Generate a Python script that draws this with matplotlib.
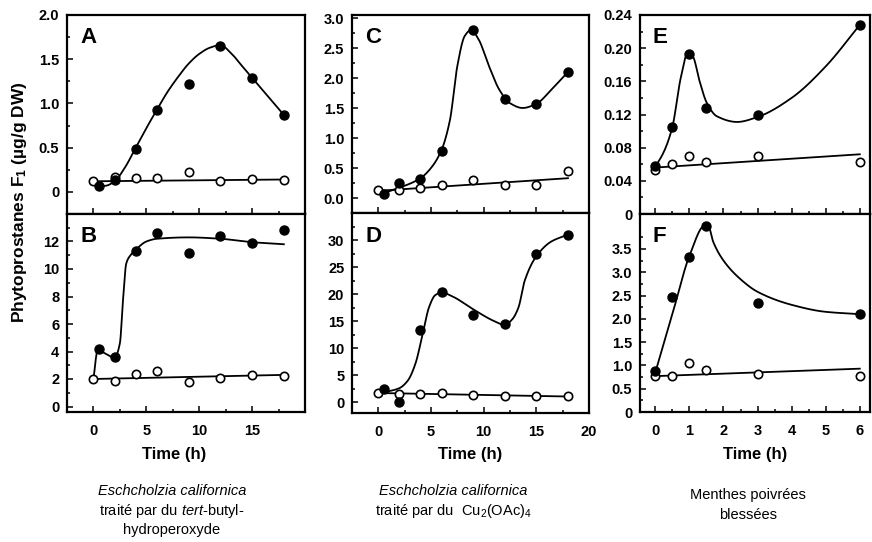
import numpy as np
import matplotlib
matplotlib.use("Agg")
import matplotlib.pyplot as plt
from matplotlib.ticker import MultipleLocator, FixedLocator

plt.rcParams['font.family'] = ['Liberation Sans', 'DejaVu Sans']
plt.rcParams['mathtext.fontset'] = 'custom'
plt.rcParams['mathtext.rm'] = 'Liberation Sans'
plt.rcParams['mathtext.it'] = 'Liberation Sans:italic'

# ---- data ----
t_filled = [0.5, 2, 4, 6, 9, 12, 15, 18]
t_open = [0, 2, 4, 6, 9, 12, 15, 18]
t_mint = [0, 0.5, 1, 1.5, 3, 6]

# A: E. californica + tert-butyl-hydroperoxide
a_filled = [0.07, 0.13, 0.48, 0.93, 1.22, 1.65, 1.29, 0.87]
a_open = [0.12, 0.17, 0.16, 0.16, 0.22, 0.12, 0.15, 0.13]
a_curve_t = [0.5, 1.2, 2, 3, 4, 5, 6, 7, 8, 9, 10, 11, 12, 13, 14, 15, 16, 17, 18]
a_curve_y = [0.06, 0.07, 0.12, 0.28, 0.5, 0.72, 0.93, 1.13, 1.3, 1.45, 1.56, 1.63, 1.66,
             1.57, 1.43, 1.29, 1.15, 1.01, 0.87]
a_line = [0.12, 0.14]

# B
b_filled = [4.2, 3.6, 11.3, 12.6, 11.2, 12.4, 11.9, 12.8]
b_open = [2.0, 1.85, 2.4, 2.55, 1.75, 2.05, 2.3, 2.25]
b_curve_t = [0, 0.4, 1, 2, 2.5, 2.8, 3.1, 3.5, 4, 5, 6, 9, 12, 15, 18]
b_curve_y = [2.0, 4.1, 3.9, 3.55, 4.6, 7.8, 10.4, 11.0, 11.4, 12.0, 12.2, 12.3, 12.2, 11.95, 11.8]
b_line = [2.0, 2.3]

# C: E. californica + Cu2(OAc)4
c_filled = [0.06, 0.25, 0.32, 0.78, 2.8, 1.65, 1.57, 2.1]
c_open = [0.13, 0.13, 0.16, 0.22, 0.3, 0.22, 0.21, 0.45]
c_curve_t = [0.5, 2, 4, 5, 6, 6.8, 7.5, 8.2, 8.8, 9.5, 10.5, 11.5, 12.5, 13.7, 15, 16.5, 18]
c_curve_y = [0.08, 0.17, 0.33, 0.5, 0.8, 1.3, 2.2, 2.7, 2.8, 2.65, 2.2, 1.8, 1.58, 1.5, 1.57, 1.82, 2.1]
c_line = [0.12, 0.33]

# D
d_filled = [2.5, 0.1, 13.3, 20.4, 16.2, 14.4, 27.4, 31.0]
d_open = [1.7, 1.45, 1.55, 1.65, 1.3, 1.2, 1.15, 1.1]
d_curve_t = [0.5, 2, 2.8, 3.5, 4.2, 4.8, 5.4, 6, 7, 9, 11, 12, 12.7, 13.3, 13.9, 15, 16.4, 18]
d_curve_y = [1.8, 2.6, 4.0, 7.0, 12.5, 17.5, 19.8, 20.3, 19.6, 17.2, 15.0, 14.3, 15.3, 17.5,
             22.5, 27.0, 29.7, 31.0]
d_line = [1.7, 1.05]

# E: wounded peppermint
e_filled = [0.058, 0.105, 0.193, 0.128, 0.119, 0.228]
e_open = [0.053, 0.06, 0.07, 0.063, 0.07, 0.063]
e_curve_t = [0, 0.25, 0.5, 0.75, 0.95, 1.1, 1.3, 1.5, 1.8, 2.4, 3, 4, 5, 6]
e_curve_y = [0.057, 0.075, 0.105, 0.165, 0.194, 0.19, 0.16, 0.135, 0.118, 0.111, 0.117,
             0.14, 0.178, 0.228]
e_line = [0.056, 0.072]

# F
f_filled = [0.87, 2.46, 3.33, 4.0, 2.33, 2.1]
f_open = [0.77, 0.77, 1.06, 0.91, 0.82, 0.78]
f_curve_t = [0, 0.5, 1, 1.45, 1.55, 1.7, 2, 2.5, 3, 4, 5, 6]
f_curve_y = [0.85, 2.1, 3.35, 4.0, 4.0, 3.65, 3.25, 2.85, 2.58, 2.3, 2.15, 2.1]
f_line = [0.77, 0.93]


def pchip(x, y, xs):
    # monotone cubic through the curve knots, just for drawing the smooth fit line
    x = np.asarray(x, float)
    y = np.asarray(y, float)
    h = np.diff(x)
    d = np.diff(y) / h
    m = np.zeros_like(y)
    m[0], m[-1] = d[0], d[-1]
    for k in range(1, len(x) - 1):
        if d[k - 1] * d[k] > 0:
            w1 = 2 * h[k] + h[k - 1]
            w2 = h[k] + 2 * h[k - 1]
            m[k] = (w1 + w2) / (w1 / d[k - 1] + w2 / d[k])
    idx = np.clip(np.searchsorted(x, xs) - 1, 0, len(x) - 2)
    s = (xs - x[idx]) / h[idx]
    h00 = 2 * s**3 - 3 * s**2 + 1
    h10 = s**3 - 2 * s**2 + s
    h01 = -2 * s**3 + 3 * s**2
    h11 = s**3 - s**2
    return h00 * y[idx] + h10 * h[idx] * m[idx] + h01 * y[idx + 1] + h11 * h[idx] * m[idx + 1]


W, H = 872, 542
fig = plt.figure(figsize=(W / 100, H / 100), dpi=100)


def add_ax(left, right, bottom, top):
    return fig.add_axes([left / W, 1 - bottom / H, (right - left) / W, (bottom - top) / H])


def draw(ax, letter, tf, filled, to, opn, ct, cy, line):
    xs = np.linspace(ct[0], ct[-1], 400)
    ax.plot(xs, pchip(ct, cy, xs), color='black', lw=1.3, zorder=2)
    ax.plot([to[0], to[-1]], line, color='black', lw=1.3, zorder=2)
    ax.plot(to, opn, 'o', ms=6, mfc='white', mec='black', mew=1.2, zorder=3)
    ax.plot(tf, filled, 'o', ms=6.5, color='black', zorder=4)
    ax.text(0.055, 0.885, letter, transform=ax.transAxes, fontsize=16,
            fontweight='bold', va='center', ha='left')
    for sp in ax.spines.values():
        sp.set_linewidth(1.6)
    ax.tick_params(which='both', direction='in', top=False, right=False,
                   labelsize=10.5, width=1.1)
    ax.tick_params(axis='x', pad=8.5)
    ax.tick_params(axis='y', pad=5.5)
    ax.tick_params(which='major', length=4)
    ax.tick_params(which='minor', length=2.5)
    for lab in ax.get_xticklabels() + ax.get_yticklabels():
        lab.set_fontweight('bold')


axA = add_ax(67, 305, 214, 15)
axB = add_ax(67, 305, 412, 214)
axC = add_ax(352, 589, 213, 15)
axD = add_ax(352, 589, 413, 213)
axE = add_ax(640, 870, 214, 15)
axF = add_ax(640, 870, 412, 214)

# x axes
for ax in (axA, axB):
    ax.set_xlim(-2.5, 20)
    ax.set_xticks([0, 5, 10, 15])
    ax.xaxis.set_minor_locator(FixedLocator([2.5, 7.5, 12.5, 17.5]))
for ax in (axC, axD):
    ax.set_xlim(-2.5, 20)
    ax.set_xticks([0, 5, 10, 15, 20])
    ax.xaxis.set_minor_locator(FixedLocator([2.5, 7.5, 12.5, 17.5]))
for ax in (axE, axF):
    ax.set_xlim(-0.45, 6.3)
    ax.set_xticks([0, 1, 2, 3, 4, 5, 6])
    ax.xaxis.set_minor_locator(MultipleLocator(0.5))
for ax in (axA, axC, axE):
    ax.tick_params(labelbottom=False)

# y axes
axA.set_ylim(-0.25, 2.0)
axA.set_yticks([0, 0.5, 1.0, 1.5, 2.0], ['0', '0.5', '1.0', '1.5', '2.0'])
axA.yaxis.set_minor_locator(FixedLocator([0.25, 0.75, 1.25, 1.75]))
axB.set_ylim(-0.4, 14)
axB.set_yticks([0, 2, 4, 6, 8, 10, 12])
axB.yaxis.set_minor_locator(FixedLocator([1, 3, 5, 7, 9, 11, 13]))
axC.set_ylim(-0.25, 3.05)
axC.set_yticks([0, 0.5, 1.0, 1.5, 2.0, 2.5, 3.0],
               ['0.0', '0.5', '1.0', '1.5', '2.0', '2.5', '3.0'])
axC.yaxis.set_minor_locator(FixedLocator([0.25, 0.75, 1.25, 1.75, 2.25, 2.75]))
axD.set_ylim(-2, 35)
axD.set_yticks([0, 5, 10, 15, 20, 25, 30])
axD.yaxis.set_minor_locator(FixedLocator([2.5, 7.5, 12.5, 17.5, 22.5, 27.5, 32.5]))
axE.set_ylim(0, 0.24)
axE.set_yticks([0, 0.04, 0.08, 0.12, 0.16, 0.20, 0.24],
               ['0', '0.04', '0.08', '0.12', '0.16', '0.20', '0.24'])
axE.yaxis.set_minor_locator(FixedLocator([0.02, 0.06, 0.10, 0.14, 0.18, 0.22]))
axF.set_ylim(0, 4.25)
axF.set_yticks([0, 0.5, 1.0, 1.5, 2.0, 2.5, 3.0, 3.5],
               ['0', '0.5', '1.0', '1.5', '2.0', '2.5', '3.0', '3.5'])
axF.yaxis.set_minor_locator(FixedLocator([0.25, 0.75, 1.25, 1.75, 2.25, 2.75, 3.25, 3.75]))

draw(axA, 'A', t_filled, a_filled, t_open, a_open, a_curve_t, a_curve_y, a_line)
draw(axB, 'B', t_filled, b_filled, t_open, b_open, b_curve_t, b_curve_y, b_line)
draw(axC, 'C', t_filled, c_filled, t_open, c_open, c_curve_t, c_curve_y, c_line)
draw(axD, 'D', t_filled, d_filled, t_open, d_open, d_curve_t, d_curve_y, d_line)
draw(axE, 'E', t_mint, e_filled, t_mint, e_open, e_curve_t, e_curve_y, e_line)
draw(axF, 'F', t_mint, f_filled, t_mint, f_open, f_curve_t, f_curve_y, f_line)

# shared labels
fig.text(20 / W, 1 - 202 / H, r'Phytoprostanes F$_\mathregular{1}$ (µg/g DW)', rotation=90,
         ha='center', va='center', fontsize=12.5, fontweight='bold')
for xc in (174, 470, 755):
    fig.text(xc / W, 1 - 454 / H, 'Time (h)', ha='center', va='center',
             fontsize=12, fontweight='bold')

cap = dict(ha='center', va='center', fontsize=10.5)
fig.text(172 / W, 1 - 491 / H, 'Eschcholzia californica', style='italic', **cap)
fig.text(172 / W, 1 - 511 / H, r'traité par du $\mathit{tert}$-butyl-', **cap)
fig.text(172 / W, 1 - 530 / H, 'hydroperoxyde', **cap)
fig.text(453 / W, 1 - 491 / H, 'Eschcholzia californica', style='italic', **cap)
fig.text(453 / W, 1 - 511 / H, r'traité par du  Cu$_\mathregular{2}$(OAc)$_\mathregular{4}$', **cap)
fig.text(748 / W, 1 - 495 / H, 'Menthes poivrées', **cap)
fig.text(748 / W, 1 - 515 / H, 'blessées', **cap)

fig.savefig('out.png', dpi=100)
